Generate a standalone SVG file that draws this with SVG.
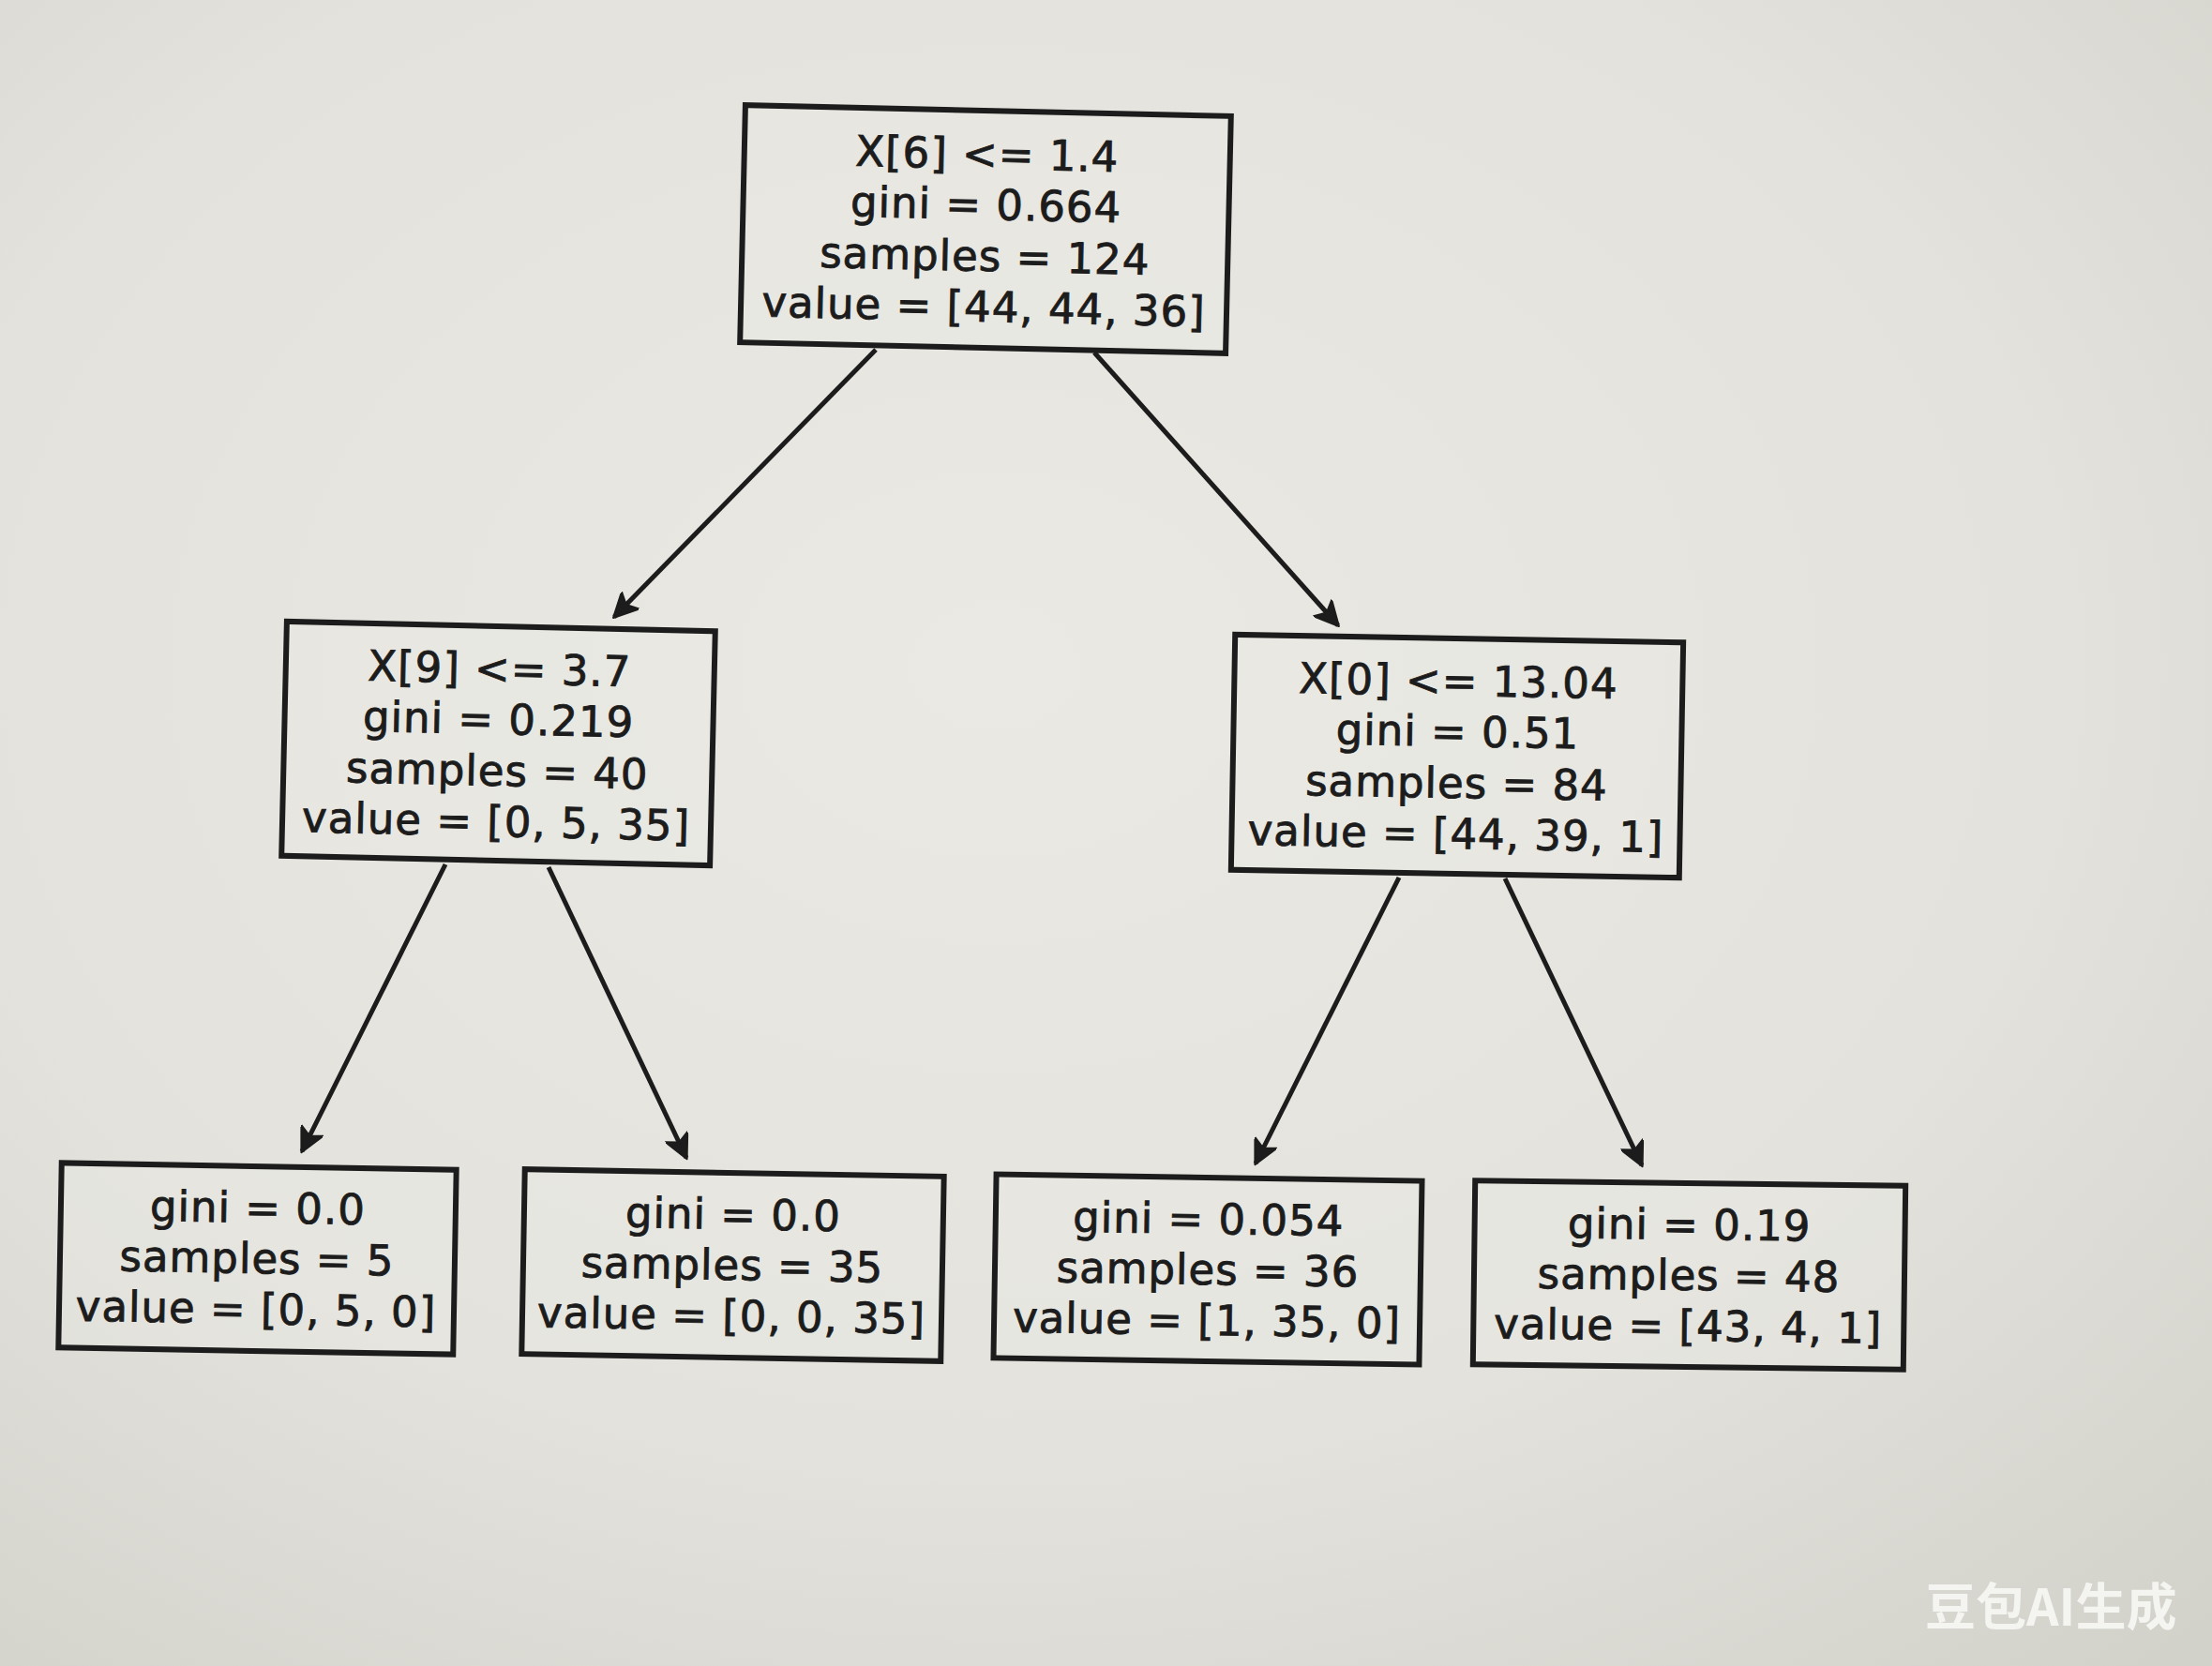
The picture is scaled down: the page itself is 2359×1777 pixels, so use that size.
<svg xmlns="http://www.w3.org/2000/svg" width="2359" height="1777" viewBox="0 0 2359 1777">
  <defs>
    <radialGradient id="paper" cx="0.45" cy="0.4" r="0.8">
      <stop offset="0" stop-color="#eae9e4"/>
      <stop offset="0.6" stop-color="#e3e2dc"/>
      <stop offset="1" stop-color="#d2d1ca"/>
    </radialGradient>
    <marker id="arrow" viewBox="0 0 10 10" markerWidth="34" markerHeight="26" markerUnits="userSpaceOnUse" refX="9.5" refY="5" orient="auto">
      <path d="M0,0 L10,5 L0,10 L2.5,5 z" fill="#1c1c1c" stroke="#1c1c1c" stroke-width="0.8" stroke-linejoin="round"/>
    </marker>
    <style>
      .box { fill: #ebeae5; fill-opacity: 0.35; stroke: #1c1c1c; stroke-width: 6; }
      .t { font-family: "DejaVu Sans", "Liberation Sans", sans-serif; font-size: 45px; letter-spacing: 1px; fill: #1c1c1c; stroke: #1c1c1c; stroke-width: 0.9; text-anchor: middle; }
      .edge { stroke: #1c1c1c; stroke-width: 5; fill: none; marker-end: url(#arrow); }
      .wm { font-family: "Noto Sans CJK SC", sans-serif; font-size: 54px; font-weight: bold; fill: #f6f6f4; fill-opacity: 0.92; }
    </style>
  </defs>

  <rect x="0" y="0" width="2359" height="1777" fill="url(#paper)"/>

  <g id="connectors">
    <line class="edge" x1="934" y1="373" x2="655" y2="658"/>
    <line class="edge" x1="1167" y1="376" x2="1427" y2="667"/>
    <line class="edge" x1="475" y1="922" x2="322" y2="1228"/>
    <line class="edge" x1="585" y1="925" x2="732" y2="1235"/>
    <line class="edge" x1="1492" y1="936" x2="1339" y2="1241"/>
    <line class="edge" x1="1605" y1="937" x2="1751" y2="1243"/>
  </g>

  <g id="node-root" transform="rotate(1.3 1051 244)">
    <rect class="box" x="792" y="118" width="518" height="253"/>
    <text class="t" x="1051" y="180">X[6] &lt;= 1.4</text>
    <text class="t" x="1051" y="234">gini = 0.664</text>
    <text class="t" x="1051" y="289">samples = 124</text>
    <text class="t" x="1051" y="343">value = [44, 44, 36]</text>
  </g>

  <g id="node-left" transform="rotate(1.3 531 793)">
    <rect class="box" x="303" y="668" width="457" height="250"/>
    <text class="t" x="531" y="729">X[9] &lt;= 3.7</text>
    <text class="t" x="531" y="783">gini = 0.219</text>
    <text class="t" x="531" y="838">samples = 40</text>
    <text class="t" x="531" y="892">value = [0, 5, 35]</text>
  </g>

  <g id="node-right" transform="rotate(1 1554 806)">
    <rect class="box" x="1315" y="681" width="478" height="251"/>
    <text class="t" x="1554" y="742">X[0] &lt;= 13.04</text>
    <text class="t" x="1554" y="796">gini = 0.51</text>
    <text class="t" x="1554" y="851">samples = 84</text>
    <text class="t" x="1554" y="905">value = [44, 39, 1]</text>
  </g>

  <g id="leaf-1" transform="rotate(1 274 1342)">
    <rect class="box" x="64" y="1244" width="421" height="197"/>
    <text class="t" x="274" y="1304">gini = 0.0</text>
    <text class="t" x="274" y="1358">samples = 5</text>
    <text class="t" x="274" y="1412">value = [0, 5, 0]</text>
  </g>

  <g id="leaf-2" transform="rotate(1 781 1349)">
    <rect class="box" x="558" y="1251" width="447" height="197"/>
    <text class="t" x="781" y="1311">gini = 0.0</text>
    <text class="t" x="781" y="1365">samples = 35</text>
    <text class="t" x="781" y="1419">value = [0, 0, 35]</text>
  </g>

  <g id="leaf-3" transform="rotate(0.9 1288 1354)">
    <rect class="box" x="1061" y="1256" width="454" height="196"/>
    <text class="t" x="1288" y="1316">gini = 0.054</text>
    <text class="t" x="1288" y="1370">samples = 36</text>
    <text class="t" x="1288" y="1424">value = [1, 35, 0]</text>
  </g>

  <g id="leaf-4" transform="rotate(0.7 1801 1360)">
    <rect class="box" x="1572" y="1262" width="459" height="196"/>
    <text class="t" x="1801" y="1322">gini = 0.19</text>
    <text class="t" x="1801" y="1376">samples = 48</text>
    <text class="t" x="1801" y="1430">value = [43, 4, 1]</text>
  </g>

  <text class="wm" x="2053" y="1734">豆包AI生成</text>
</svg>
